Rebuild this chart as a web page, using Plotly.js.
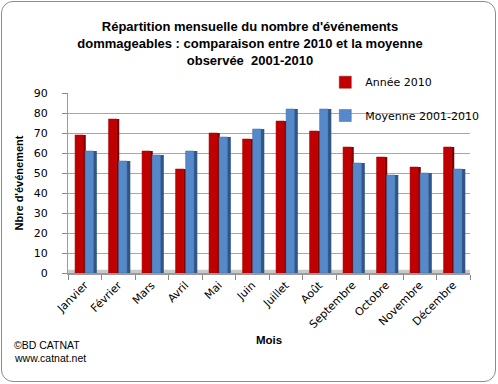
<!DOCTYPE html>
<html>
<head>
<meta charset="utf-8">
<script src="https://cdn.plot.ly/plotly-3.0.1.min.js"></script>
<style>
  html, body { margin: 0; padding: 0; background: #fff; }
  #wrap { position: relative; width: 498px; height: 384px; }
  #chart { width: 498px; height: 384px; }
  #frame { position: absolute; left: 1px; top: 1px; width: 493px; height: 379px;
           border: 1.5px solid #8c8c8c; border-radius: 12px; pointer-events: none; }
</style>
</head>
<body>
<div id="wrap"><div id="chart"></div><div id="frame"></div></div>
<script>
const months = ['Janvier','Février','Mars','Avril','Mai','Juin','Juillet','Août','Septembre','Octobre','Novembre','Décembre'];
const annee2010 = [69, 77, 61, 52, 70, 67, 76, 71, 63, 58, 53, 63];
const moyenne = [61, 56, 59, 61, 68, 72, 82, 82, 55, 49, 50, 52];
const seriesNames = ['Année 2010', 'Moyenne 2001-2010'];
const yTicks = [0, 10, 20, 30, 40, 50, 60, 70, 80, 90];

const tickFont = { family: 'DejaVu Sans', size: 11, color: '#000' };

const traces = [
  { type: 'bar', x: months, y: annee2010, offset: -0.05, width: 0.08,
    marker: { color: '#7a0000' }, showlegend: false, hoverinfo: 'skip' },
  { type: 'bar', x: months, y: annee2010, offset: -0.29, width: 0.25, name: seriesNames[0],
    marker: { color: '#c00000', line: { color: '#a00000', width: 0.5 } }, legend: 'legend' },
  { type: 'bar', x: months, y: moyenne, offset: 0.25, width: 0.11,
    marker: { color: '#2f5686' }, showlegend: false, hoverinfo: 'skip' },
  { type: 'bar', x: months, y: moyenne, offset: 0.01, width: 0.25, name: seriesNames[1],
    marker: { color: '#5589c9', line: { color: '#3f6ea8', width: 0.5 } }, legend: 'legend2' }
];

const layout = {
  width: 498, height: 384,
  margin: { l: 68, r: 28, t: 93, b: 111 },
  paper_bgcolor: '#fff', plot_bgcolor: '#fff',
  barmode: 'overlay',
  title: {
    text: "Répartition mensuelle du nombre d'événements<br>dommageables : comparaison entre 2010 et la moyenne<br>observée  2001-2010",
    font: { family: 'Liberation Sans', size: 13, color: '#000', weight: 'bold' },
    x: 0.502, xanchor: 'center', xref: 'container',
    y: 0.918, yanchor: 'top', yref: 'container'
  },
  xaxis: {
    type: 'category', tickangle: -45, tickfont: tickFont,
    tickson: 'boundaries', ticks: 'outside', ticklen: 5, tickcolor: '#888',
    showline: true, linecolor: '#9a9a9a', linewidth: 1.5, showgrid: false,
    title: { text: 'Mois', font: { family: 'Liberation Sans', size: 11.5, weight: 'bold', color: '#000' }, standoff: 6 }
  },
  yaxis: {
    range: [0, 90], tickvals: yTicks, tickfont: tickFont,
    ticks: 'outside', ticklen: 5, tickcolor: '#888', ticklabelstandoff: 12,
    showline: true, linecolor: '#9a9a9a', linewidth: 1,
    showgrid: true, gridcolor: '#a8a8a8', gridwidth: 1, zeroline: false,
    title: { text: "Nbre d'événement", font: { family: 'Liberation Sans', size: 11, weight: 'bold', color: '#000' }, standoff: 7 }
  },
  legend: {
    x: 0.64, y: 1.06, xanchor: 'left', yanchor: 'middle',
    bgcolor: 'rgba(0,0,0,0)', font: tickFont, itemwidth: 30
  },
  legend2: {
    x: 0.64, y: 0.875, xanchor: 'left', yanchor: 'middle',
    bgcolor: 'rgba(0,0,0,0)', font: tickFont, itemwidth: 30
  },
  shapes: [
    { type: 'rect', xref: 'paper', yref: 'paper', x0: 0, x1: 1, y0: 0, y1: 0.018,
      fillcolor: '#c9c9c9', line: { width: 0 }, layer: 'below' }
  ],
  annotations: [
    { text: '©BD CATNAT', xref: 'paper', yref: 'paper',
      x: -0.14, y: -0.4, xanchor: 'left', yanchor: 'middle', showarrow: false, align: 'left',
      font: { family: 'Liberation Sans', size: 10.5, color: '#000' } },
    { text: 'www.catnat.net', xref: 'paper', yref: 'paper',
      x: -0.14, y: -0.472, xanchor: 'left', yanchor: 'middle', showarrow: false, align: 'left',
      font: { family: 'Liberation Sans', size: 10.5, color: '#000' } }
  ]
};

Plotly.newPlot('chart', traces, layout, { displayModeBar: false, staticPlot: true });
</script>
</body>
</html>
